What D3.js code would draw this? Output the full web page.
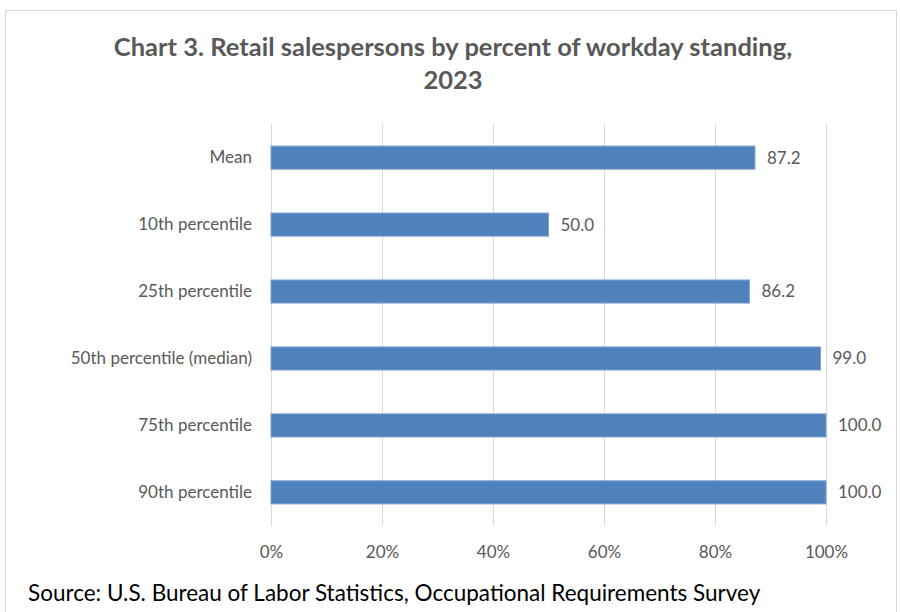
<!DOCTYPE html>
<html>
<head>
<meta charset="utf-8">
<script src="https://cdn.jsdelivr.net/npm/d3@7"></script>
<style>
  body { margin: 0; background: #fff; }
  svg text { font-family: Lato, "Open Sans", sans-serif; fill: #595959; }
</style>
</head>
<body>
<div id="chart"></div>
<script>
const categories = ["Mean", "10th percentile", "25th percentile", "50th percentile (median)", "75th percentile", "90th percentile"];
const values = [87.2, 50.0, 86.2, 99.0, 100.0, 100.0];
const xTicks = [0, 20, 40, 60, 80, 100];
const titleLines = ["Chart 3. Retail salespersons by percent of workday standing,", "2023"];
const source = "Source: U.S. Bureau of Labor Statistics, Occupational Requirements Survey";

const data = categories.map((c, i) => ({ cat: c, value: values[i] }));

const totalWidth = 900, totalHeight = 612;
const margin = { top: 124, right: 74, bottom: 86, left: 271 },
  width = totalWidth - margin.left - margin.right,
  height = totalHeight - margin.top - margin.bottom;

const root = d3
  .select("#chart")
  .append("svg")
  .attr("width", totalWidth)
  .attr("height", totalHeight);

// chart frame
root
  .append("rect")
  .attr("x", 5.5)
  .attr("y", 10.5)
  .attr("width", 891)
  .attr("height", 620)
  .attr("fill", "none")
  .attr("stroke", "#d9d9d9");

root
  .append("g")
  .selectAll("text")
  .data(titleLines)
  .join("text")
  .attr("x", 453)
  .attr("y", (d, i) => 56 + i * 33)
  .attr("text-anchor", "middle")
  .attr("font-size", 25.5)
  .attr("font-weight", "bold")
  .text((d) => d);

const svg = root
  .append("g")
  .attr("transform", "translate(" + margin.left + "," + margin.top + ")");

const x = d3.scaleLinear().domain([0, 100]).range([0, width]);

const y = d3
  .scaleBand()
  .domain(categories)
  .range([0, height])
  .paddingInner(0.655)
  .paddingOuter(0.33);

// gridlines
svg
  .append("g")
  .selectAll("line")
  .data(xTicks)
  .join("line")
  .attr("x1", (d) => x(d) + 0.5)
  .attr("x2", (d) => x(d) + 0.5)
  .attr("y1", 0)
  .attr("y2", height)
  .attr("stroke", "#d9d9d9")
  .attr("stroke-width", 1);

svg
  .append("g")
  .selectAll("rect")
  .data(data)
  .join("rect")
  .attr("x", x(0))
  .attr("y", (d) => y(d.cat))
  .attr("width", (d) => x(d.value))
  .attr("height", y.bandwidth())
  .attr("fill", "#4f81bd")
  .attr("stroke", "#7da1cf")
  .attr("stroke-width", 1);

svg
  .append("g")
  .selectAll("text")
  .data(data)
  .join("text")
  .attr("x", (d) => x(d.value) + 12)
  .attr("y", (d) => y(d.cat) + y.bandwidth() / 2)
  .attr("dy", "0.35em")
  .attr("font-size", 17)
  .text((d) => d.value.toFixed(1));

const yAxis = svg
  .append("g")
  .call(d3.axisLeft(y).tickSize(0).tickPadding(19));
yAxis.select(".domain").remove();
yAxis.selectAll("text").attr("font-size", 17).attr("fill", "#595959");

const xAxis = svg
  .append("g")
  .attr("transform", "translate(0," + height + ")")
  .call(
    d3
      .axisBottom(x)
      .tickValues(xTicks)
      .tickSize(0)
      .tickPadding(20)
      .tickFormat((d) => d + "%")
  );
xAxis.select(".domain").remove();
xAxis.selectAll("text").attr("font-size", 17).attr("fill", "#595959");

root
  .append("text")
  .attr("x", 28)
  .attr("y", 601)
  .attr("font-size", 22.5)
  .style("fill", "#000")
  .text(source);
</script>
</body>
</html>
